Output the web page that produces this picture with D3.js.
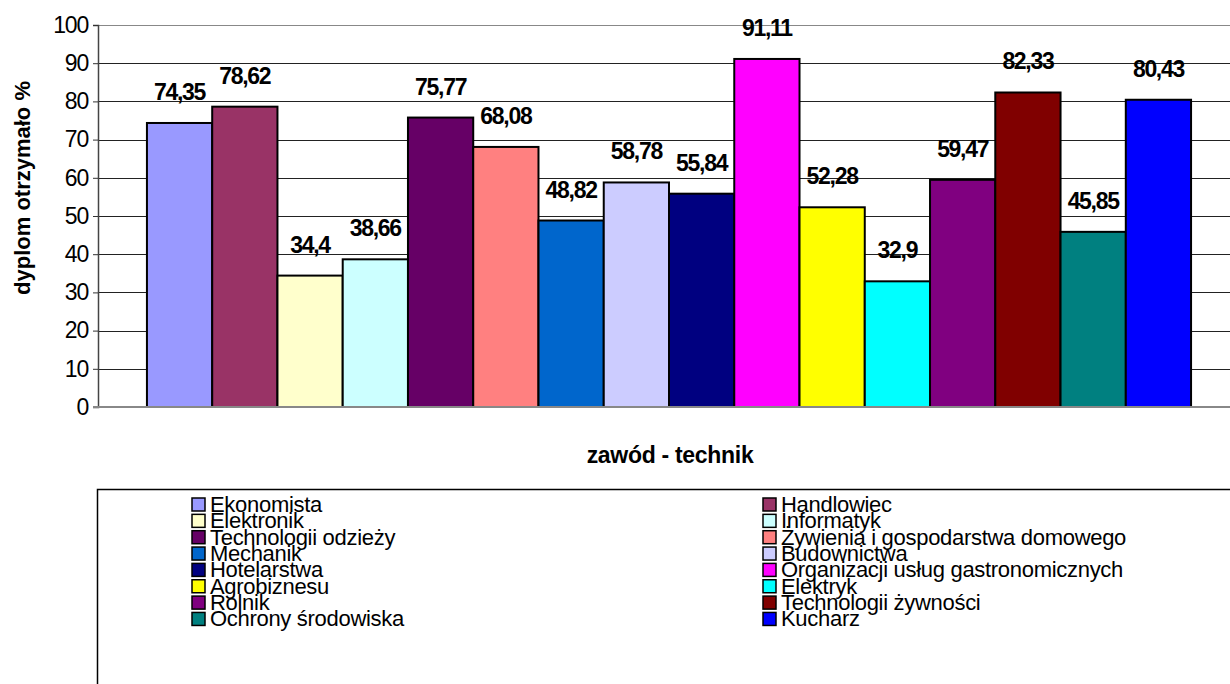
<!DOCTYPE html>
<html>
<head>
<meta charset="utf-8">
<script src="https://cdn.jsdelivr.net/npm/d3@7"></script>
<style>
  body { margin: 0; background: #fff; }
  svg { display: block; font-family: "Liberation Sans", Arial, sans-serif; }
</style>
</head>
<body>
<svg id="chart"></svg>
<script>
// data
const zawody = ["Ekonomista", "Handlowiec", "Elektronik", "Informatyk", "Technologii odzieży",
  "Żywienia i gospodarstwa domowego", "Mechanik", "Budownictwa", "Hotelarstwa",
  "Organizacji usług gastronomicznych", "Agrobiznesu", "Elektryk", "Rolnik",
  "Technologii żywności", "Ochrony środowiska", "Kucharz"];
const wartosci = [74.35, 78.62, 34.4, 38.66, 75.77, 68.08, 48.82, 58.78, 55.84,
  91.11, 52.28, 32.9, 59.47, 82.33, 45.85, 80.43];
const kolory = ["#9999FF", "#993366", "#FFFFCC", "#CCFFFF", "#660066", "#FF8080", "#0066CC",
  "#CCCCFF", "#000080", "#FF00FF", "#FFFF00", "#00FFFF", "#800080", "#800000", "#008080", "#0000FF"];
const yTicks = [0, 10, 20, 30, 40, 50, 60, 70, 80, 90, 100];

let width = 1230, height = 684;
let svg = d3.select("#chart").attr("width", width).attr("height", height);

let plot = { left: 98, right: 1240, top: 25, bottom: 407 };

let x = d3.scaleBand()
  .domain(zawody)
  .range([plot.left, plot.right])
  .paddingOuter(0.75)
  .paddingInner(0);

let y = d3.scaleLinear()
  .domain([0, 100])
  .range([plot.bottom, plot.top]);

// grid
svg.append("g")
  .selectAll("line")
  .data(yTicks.filter(t => t > 0))
  .enter().append("line")
    .attr("x1", plot.left).attr("x2", width)
    .attr("y1", d => Math.round(y(d)) + 0.5).attr("y2", d => Math.round(y(d)) + 0.5)
    .attr("stroke", d => d == 100 ? "#888" : "#222")
    .attr("stroke-width", 1);

// y axis
let axisY = d3.axisLeft(y).tickValues(yTicks).tickSize(5).tickPadding(5);
let gy = svg.append("g")
  .attr("transform", `translate(${plot.left},0)`)
  .call(axisY);
gy.select(".domain").attr("stroke", "#444").attr("stroke-width", 1.5);
gy.selectAll(".tick line").attr("stroke", "#333");
gy.selectAll(".tick text")
  .attr("font-size", 23)
  .attr("font-family", "Liberation Sans, Arial, sans-serif")
  .attr("letter-spacing", -1.2)
  .attr("fill", "#000");

// bars
svg.append("g")
  .selectAll("rect")
  .data(wartosci)
  .enter().append("rect")
    .attr("x", (d, i) => x(zawody[i]))
    .attr("y", d => y(d))
    .attr("width", x.bandwidth())
    .attr("height", d => y(0) - y(d))
    .attr("fill", (d, i) => kolory[i])
    .attr("stroke", "#000")
    .attr("stroke-width", 2);

// bottom axis line
svg.append("line")
  .attr("x1", plot.left - 5).attr("x2", width)
  .attr("y1", y(0)).attr("y2", y(0))
  .attr("stroke", "#888").attr("stroke-width", 2);

// value labels
svg.append("g")
  .selectAll("text")
  .data(wartosci)
  .enter().append("text")
    .attr("x", (d, i) => x(zawody[i]) + x.bandwidth() / 2)
    .attr("y", d => y(d) - 23)
    .attr("text-anchor", "middle")
    .attr("font-size", 23)
    .attr("font-weight", "bold")
    .attr("letter-spacing", -1.3)
    .text(d => String(d).replace(".", ","));

// axis titles
svg.append("text")
  .attr("transform", "translate(30,188) rotate(-90)")
  .attr("text-anchor", "middle")
  .attr("font-size", 22)
  .attr("font-weight", "bold")
  .text("dyplom otrzymało %");

svg.append("text")
  .attr("x", 670).attr("y", 463)
  .attr("text-anchor", "middle")
  .attr("font-size", 23)
  .attr("font-weight", "bold")
  .attr("letter-spacing", -0.3)
  .text("zawód - technik");

// legend
svg.append("rect")
  .attr("x", 97.5).attr("y", 489.5)
  .attr("width", 1200).attr("height", 300)
  .attr("fill", "none").attr("stroke", "#000").attr("stroke-width", 1.5);

let legendCols = [192, 763];
let rowH = 16.35;
let legend = svg.append("g")
  .selectAll("g")
  .data(zawody)
  .enter().append("g")
    .attr("transform", (d, i) => `translate(${legendCols[i % 2]},${498 + Math.floor(i / 2) * rowH})`);

legend.append("rect")
  .attr("width", 13).attr("height", 13)
  .attr("fill", (d, i) => kolory[i])
  .attr("stroke", "#000").attr("stroke-width", 1.5);

legend.append("text")
  .attr("x", 18).attr("y", 14)
  .attr("font-size", 22)
  .attr("letter-spacing", -0.3)
  .text(d => d);
</script>
</body>
</html>
